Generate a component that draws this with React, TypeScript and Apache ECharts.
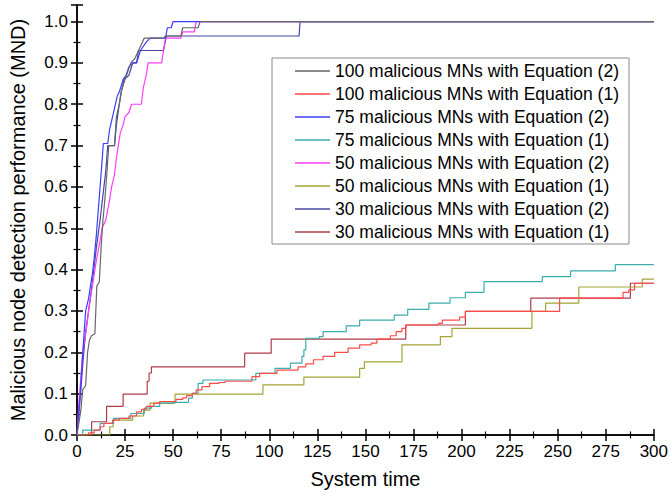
import React, { useEffect, useRef } from 'react';
import * as echarts from 'echarts';

const seriesNames = [
  '100 malicious MNs with Equation (2)',
  '100 malicious MNs with Equation (1)',
  '75 malicious MNs with Equation (2)',
  '75 malicious MNs with Equation (1)',
  '50 malicious MNs with Equation (2)',
  '50 malicious MNs with Equation (1)',
  '30 malicious MNs with Equation (2)',
  '30 malicious MNs with Equation (1)',
];

const seriesColors = ['#666666', '#ff4a4a', '#3c3cff', '#3aacac', '#ff3cff', '#a3a336', '#4646a0', '#b03c4a'];

// [system time, detection performance]
const mn100eq2 = [[0,0],[2,0.06],[3,0.11],[4.5,0.12],[5.5,0.2],[6.5,0.23],[7.5,0.24],[9.3,0.245],[10.3,0.36],[11.6,0.37],[12.5,0.45],[13.5,0.52],[14.5,0.57],[15.5,0.63],[16.5,0.7],[19.5,0.7],[20.5,0.77],[22,0.8],[23,0.83],[25,0.86],[26.5,0.88],[28,0.9],[30,0.91],[32,0.93],[35,0.96],[45,0.96],[46,0.965],[54,0.965],[55,0.985],[63,0.985],[64,1.0],[300,1.0]];
const mn75eq2 = [[0,0],[1,0.06],[2,0.12],[3,0.2],[4.5,0.3],[6,0.33],[7,0.36],[8,0.39],[9,0.43],[10,0.48],[11,0.54],[12,0.6],[13,0.66],[13.7,0.705],[16,0.705],[17,0.74],[18,0.76],[20,0.8],[21,0.82],[22,0.83],[24,0.86],[25.5,0.87],[27,0.89],[29,0.9],[31,0.9],[33,0.93],[36,0.95],[38,0.96],[46,0.96],[47,0.985],[49,0.985],[50,1.0],[300,1.0]];
const mn50eq2 = [[0,0],[1,0.08],[2,0.14],[3,0.2],[5,0.26],[6,0.3],[8,0.36],[10,0.42],[12,0.47],[13,0.5],[15,0.52],[17,0.57],[18,0.6],[19.5,0.63],[20.5,0.67],[21.5,0.7],[22.5,0.73],[24,0.75],[25,0.77],[27,0.78],[28.4,0.8],[33.5,0.8],[34.5,0.84],[36,0.87],[37,0.9],[44,0.9],[45,0.93],[46,0.96],[54,0.96],[55,0.975],[61,0.975],[62,1.0],[300,1.0]];
const mn30eq2 = [[0,0],[1.5,0.08],[3,0.17],[4.5,0.25],[6,0.3],[8,0.37],[10,0.45],[12,0.52],[13.5,0.58],[15,0.64],[16,0.7],[19.5,0.7],[20.5,0.75],[22,0.8],[23,0.83],[24.5,0.86],[27,0.87],[29,0.9],[31,0.9],[32,0.93],[45,0.93],[46.5,0.965],[115.5,0.965],[116,1.0],[300,1.0]];

const mn100eq1 = [[0,0],[6,0.005],[9,0.012],[12,0.02],[14,0.028],[18.5,0.036],[22,0.04],[27,0.046],[31,0.056],[33.5,0.062],[36,0.069],[40,0.077],[43,0.081],[51.5,0.086],[55,0.09],[57,0.095],[60,0.101],[62,0.109],[65,0.117],[69,0.125],[74,0.127],[77,0.13],[91,0.141],[95,0.149],[104,0.157],[115,0.165],[119,0.172],[123,0.182],[128,0.19],[134,0.2],[141,0.21],[147,0.218],[153,0.222],[156,0.232],[163,0.24],[166,0.25],[169,0.258],[171,0.266],[188,0.27],[190,0.278],[199,0.285],[202,0.299],[251,0.331],[284,0.345],[287,0.351],[290,0.367],[300,0.367]];
const mn75eq1 = [[0,0],[3,0.012],[12,0.028],[19,0.04],[28,0.052],[35,0.065],[38.8,0.069],[43,0.077],[50,0.079],[58,0.089],[60,0.101],[63,0.125],[65.5,0.133],[93,0.149],[103,0.161],[111,0.174],[117,0.19],[118,0.206],[119,0.234],[126,0.238],[128,0.25],[140,0.264],[147,0.278],[165,0.29],[172,0.304],[183,0.319],[194,0.332],[202,0.345],[211.7,0.371],[242,0.383],[256.7,0.397],[280,0.412],[300,0.412]];
const mn50eq1 = [[0,0],[17,0.02],[18.8,0.036],[29,0.046],[34.6,0.06],[38,0.077],[51,0.099],[96.7,0.121],[118,0.14],[147,0.161],[149.5,0.177],[169,0.218],[189,0.238],[195,0.258],[236.6,0.299],[243.7,0.319],[261,0.358],[294,0.377],[300,0.377]];
const mn30eq1 = [[0,0],[7.6,0.032],[15.4,0.069],[24,0.099],[36.5,0.13],[37.5,0.15],[38.7,0.165],[87.2,0.198],[101,0.232],[171,0.266],[202,0.299],[236,0.331],[287.8,0.367],[300,0.367]];

const seriesData = [mn100eq2, mn100eq1, mn75eq2, mn75eq1, mn50eq2, mn50eq1, mn30eq2, mn30eq1];
const stepped = [false, true, false, true, false, true, false, true];

const xMin = 0, xMax = 300, xInterval = 25;
const yMin = 0, yMax = 1.04, yInterval = 0.1;
const xName = 'System time';
const yName = 'Malicious node detection performance (MND)';

const FONT = '"Liberation Sans", Arial, sans-serif';

export default function App() {
  const ref = useRef<HTMLDivElement>(null);
  useEffect(() => {
    if (!ref.current) return;
    const chart = echarts.init(ref.current, null, { renderer: 'svg' });
    const axisLine = { show: true, lineStyle: { color: '#000', width: 1.5 } };
    const axisTick = { show: true, inside: true, length: 6, lineStyle: { color: '#000', width: 1.5 } };
    const minorTick = { show: true, splitNumber: 2, length: 3.5, lineStyle: { color: '#000', width: 1.2 } };
    chart.setOption({
      animation: false,
      backgroundColor: '#fff',
      textStyle: { fontFamily: FONT },
      grid: { left: 77, right: 16, top: 5, bottom: 60 },
      legend: {
        orient: 'vertical',
        left: 272,
        top: 58,
        padding: [4, 10, 3, 23],
        itemWidth: 35,
        itemHeight: 1.5,
        itemGap: 5,
        icon: 'rect',
        backgroundColor: '#fff',
        borderColor: '#8a8a8a',
        borderWidth: 1,
        borderRadius: 0,
        textStyle: { fontFamily: FONT, fontSize: 17.5, color: '#000', lineHeight: 18 },
        data: seriesNames,
      },
      xAxis: [
        {
          type: 'value', min: xMin, max: xMax, interval: xInterval, position: 'bottom',
          name: xName, nameLocation: 'middle', nameGap: 34,
          nameTextStyle: { fontFamily: FONT, fontSize: 20, color: '#000' },
          axisLine, axisTick, minorTick,
          axisLabel: { fontFamily: FONT, fontSize: 17, color: '#000', margin: 8 },
          splitLine: { show: false },
        },
        {
          type: 'value', min: xMin, max: xMax, interval: xInterval, position: 'top',
          axisLine, axisTick, minorTick,
          axisLabel: { show: false },
          splitLine: { show: false },
        },
      ],
      yAxis: [
        {
          type: 'value', min: yMin, max: yMax, interval: yInterval, position: 'left',
          name: yName, nameLocation: 'middle', nameGap: 49, nameRotate: 90,
          nameTextStyle: { fontFamily: FONT, fontSize: 20, color: '#000' },
          axisLine, axisTick, minorTick,
          axisLabel: {
            fontFamily: FONT, fontSize: 17, color: '#000', margin: 9, showMaxLabel: false,
            formatter: (v: number) => v.toFixed(1),
          },
          splitLine: { show: false },
        },
        {
          type: 'value', min: yMin, max: yMax, interval: yInterval, position: 'right',
          axisLine, axisTick, minorTick,
          axisLabel: { show: false },
          splitLine: { show: false },
        },
      ],
      series: seriesNames.map((name, i) => ({
        name,
        type: 'line',
        xAxisIndex: 0,
        yAxisIndex: 0,
        data: seriesData[i],
        step: stepped[i] ? 'end' : false,
        symbol: 'none',
        color: seriesColors[i],
        lineStyle: { color: seriesColors[i], width: 1.2 },
        z: 10 - i,
      })),
    });
    return () => chart.dispose();
  }, []);
  return <div ref={ref} style={{ width: 671, height: 495, position: 'fixed', left: 0, top: 0 }} />;
}
